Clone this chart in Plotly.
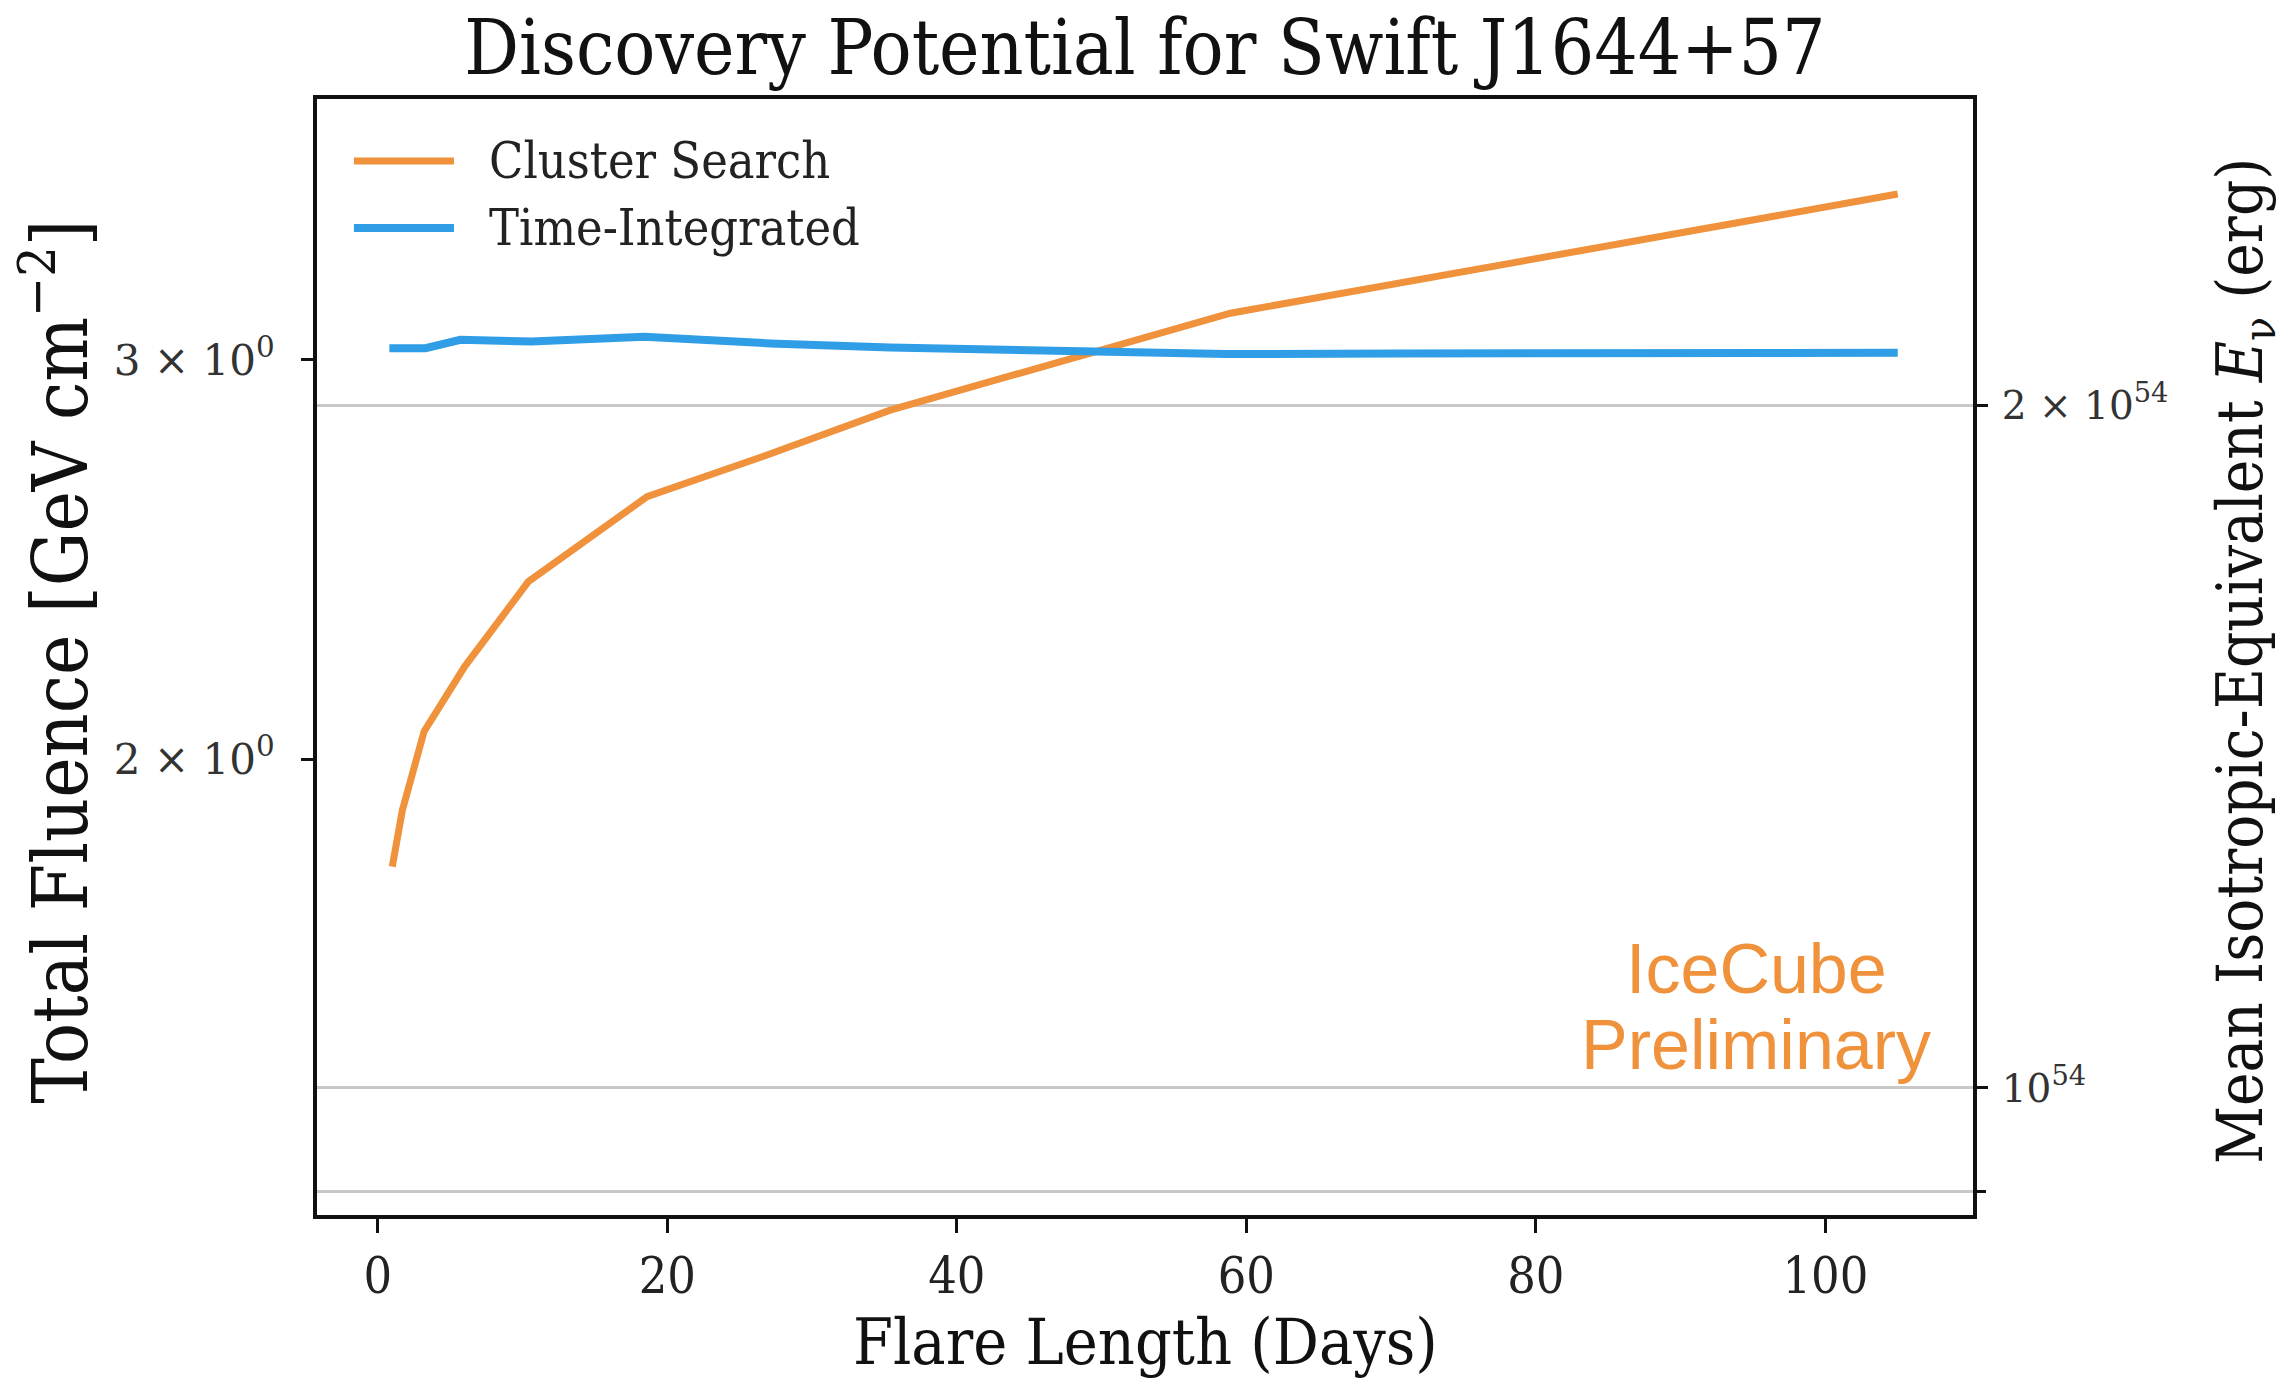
import plotly.graph_objects as go

# Flare length (days) and discovery-potential fluence for each search
cluster_days = [1.0, 1.7, 3.2, 6.0, 10.4, 18.6, 26.7, 35.4, 58.9, 70.5, 105.0]
cluster_fluence = [1.793, 1.899, 2.057, 2.197, 2.395, 2.611, 2.721, 2.851, 3.146, 3.244, 3.551]

ti_days = [0.8, 3.3, 5.7, 10.6, 18.4, 27.1, 35.4, 43.9, 58.6, 70.5, 105.0]
ti_fluence = [3.036, 3.036, 3.062, 3.057, 3.072, 3.051, 3.038, 3.029, 3.018, 3.020, 3.022]

series_names = ["Cluster Search", "Time-Integrated"]
series_colors = ["#f0913b", "#2f9ee6"]
series_widths = [7, 8]

x_ticks = [0, 20, 40, 60, 80, 100]
left_ticks = [2, 3]
left_ticktext = ["2 × 10<sup>0</sup>", "3 × 10<sup>0</sup>"]
right_ticks = [1e54, 2e54]
right_ticktext = ["10<sup>54</sup>", "2 × 10<sup>54</sup>"]
right_minor = [9e53]

COND = "DejaVu Serif Condensed, DejaVu Serif, serif"
SERIF = "DejaVu Serif, serif"
GRID = "#c8c8c8"

fig = go.Figure()
for name, xs, ys, col, w in zip(series_names, [cluster_days, ti_days],
                                [cluster_fluence, ti_fluence],
                                series_colors, series_widths):
    fig.add_trace(go.Scatter(x=xs, y=ys, mode="lines", name=name,
                             line=dict(color=col, width=w), showlegend=False))

# empty trace that anchors the secondary (energy) axis
fig.add_trace(go.Scatter(x=[], y=[], yaxis="y2", showlegend=False, hoverinfo="skip"))

fig.update_layout(
    width=2292, height=1382,
    margin=dict(l=317, r=319, t=99, b=167),
    paper_bgcolor="white", plot_bgcolor="white",
    title=dict(text="Discovery Potential for Swift J1644+57",
               font=dict(family=COND, size=76, color="#111"),
               x=0.4995, xanchor="center", xref="container",
               y=1 - 47 / 1382, yanchor="middle", yref="container"),
    xaxis=dict(range=[-4.2, 110.2], tickvals=x_ticks,
               ticks="outside", ticklen=14, tickwidth=3, tickcolor="#111",
               showline=True, linewidth=4, linecolor="#111", mirror=True,
               showgrid=False, zeroline=False,
               tickfont=dict(family=COND, size=50, color="#222"),
               ticklabelstandoff=0),
    yaxis=dict(type="log", range=[0.0998, 0.5923], tickvals=left_ticks,
               ticktext=left_ticktext,
               ticks="outside", ticklen=12, tickwidth=3, tickcolor="#111",
               showline=True, linewidth=4, linecolor="#111", mirror=True,
               showgrid=False, zeroline=False,
               tickfont=dict(family=SERIF, size=42, color="#333"),
               ticklabelstandoff=18),
    yaxis2=dict(type="log", range=[53.944, 54.436], overlaying="y", side="right",
                tickvals=right_ticks, ticktext=right_ticktext,
                ticks="outside", ticklen=14, tickwidth=3, tickcolor="#111",
                showline=False, showgrid=True, gridcolor=GRID, gridwidth=3,
                zeroline=False,
                minor=dict(tickvals=right_minor, ticks="outside", ticklen=12,
                           tickwidth=3, tickcolor="#111", showgrid=True,
                           gridcolor=GRID, gridwidth=3),
                tickfont=dict(family=SERIF, size=39, color="#333"),
                ticklabelstandoff=6),
)

annotations = [
    dict(text="Flare Length (Days)", x=0.5, y=-0.1138, xref="paper", yref="paper",
         showarrow=False, xanchor="center", yanchor="middle",
         font=dict(family=COND, size=64, color="#111")),
    dict(text="Total Fluence [GeV cm<sup>−2</sup>]", x=-0.158, y=0.496,
         xref="paper", yref="paper", showarrow=False, textangle=-90,
         xanchor="center", yanchor="middle",
         font=dict(family=COND, size=76, color="#111")),
    dict(text="Mean Isotropic-Equivalent <i>E</i><sub>ν</sub> (erg)", x=1.164, y=0.496,
         xref="paper", yref="paper", showarrow=False, textangle=-90,
         xanchor="center", yanchor="middle",
         font=dict(family=COND, size=63, color="#111")),
    dict(text="IceCube", x=(1756 - 317) / 1656, y=(1215 - 969) / 1116,
         xref="paper", yref="paper", showarrow=False, xanchor="center",
         yanchor="middle", font=dict(family="Liberation Sans, Arial, sans-serif",
                                     size=70, color="#f0913b")),
    dict(text="Preliminary", x=(1756 - 317) / 1656, y=(1215 - 1045) / 1116,
         xref="paper", yref="paper", showarrow=False, xanchor="center",
         yanchor="middle", font=dict(family="Liberation Sans, Arial, sans-serif",
                                     size=70, color="#f0913b")),
]

# legend drawn as line samples with labels, upper-left of the axes
legend_rows = [0.9444, 0.8844]
shapes = []
for name, col, w, yy in zip(series_names, series_colors, series_widths, legend_rows):
    shapes.append(dict(type="line", xref="paper", yref="paper",
                       x0=0.0223, x1=0.0827, y0=yy, y1=yy,
                       line=dict(color=col, width=w)))
    annotations.append(dict(text=name, x=0.1027, y=yy, xref="paper", yref="paper",
                            showarrow=False, xanchor="left", yanchor="middle",
                            font=dict(family=COND, size=50, color="#222")))

fig.update_layout(annotations=annotations, shapes=shapes)

fig.write_html("out.html")
